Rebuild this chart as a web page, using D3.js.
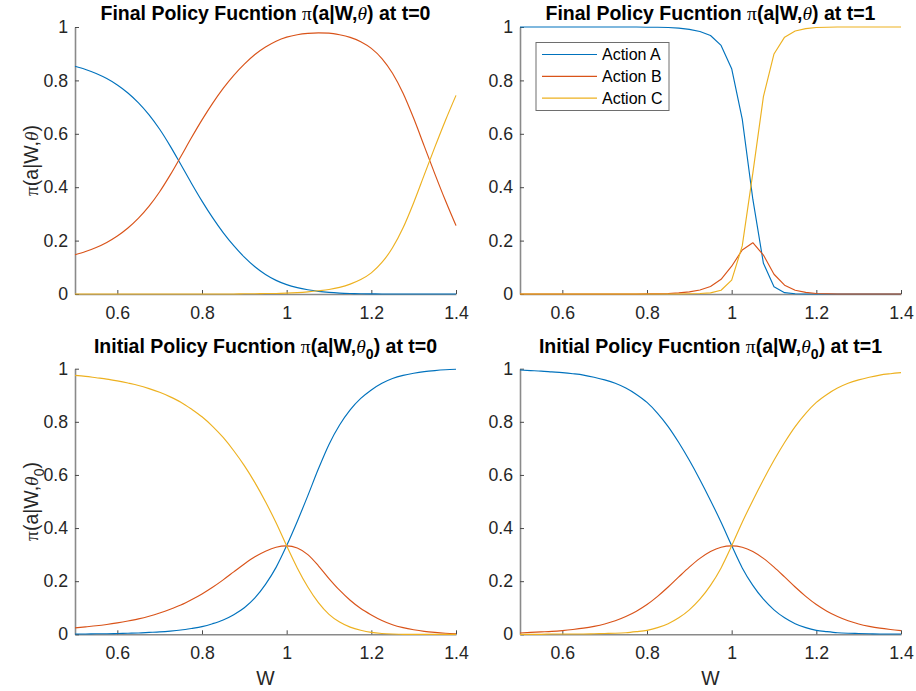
<!DOCTYPE html>
<html>
<head>
<meta charset="utf-8">
<script src="https://cdn.jsdelivr.net/npm/d3@7"></script>
<style>
  html, body { margin: 0; padding: 0; background: #ffffff; }
  svg { display: block; }
</style>
</head>
<body>
<svg id="fig" width="916" height="691"></svg>
<script>
// Wealth grid shared by all four panels
const W_VALUES = [0.5, 0.525, 0.55, 0.575, 0.6, 0.625, 0.65, 0.675, 0.7, 0.725,
  0.75, 0.775, 0.8, 0.825, 0.85, 0.875, 0.9, 0.925, 0.95, 0.975,
  1.0, 1.025, 1.05, 1.075, 1.1, 1.125, 1.15, 1.175, 1.2, 1.225,
  1.25, 1.275, 1.3, 1.325, 1.35, 1.375, 1.4];

const X_TICKS = [0.6, 0.8, 1, 1.2, 1.4];
const Y_TICKS = [0, 0.2, 0.4, 0.6, 0.8, 1];
const ACTIONS = ["Action A", "Action B", "Action C"];

// Final policy, t = 0
const finalT0_A = [0.853, 0.841, 0.826, 0.807, 0.783, 0.753, 0.716, 0.671, 0.617, 0.554,
  0.485, 0.415, 0.348, 0.286, 0.230, 0.181, 0.138, 0.102, 0.073, 0.051,
  0.035, 0.024, 0.016, 0.010, 0.006, 0.0035, 0.002, 0.001, 0.0006, 0,
  0, 0, 0, 0, 0, 0, 0];
const finalT0_B = [0.147, 0.159, 0.174, 0.193, 0.217, 0.247, 0.284, 0.329, 0.383, 0.446,
  0.515, 0.585, 0.652, 0.714, 0.770, 0.819, 0.861, 0.897, 0.925, 0.947,
  0.962, 0.971, 0.976, 0.978, 0.977, 0.971, 0.961, 0.945, 0.920, 0.882,
  0.827, 0.752, 0.658, 0.554, 0.450, 0.350, 0.256];
const finalT0_C = [0, 0, 0, 0, 0, 0, 0, 0, 0, 0,
  0, 0, 0, 0, 0, 0, 0.001, 0.001, 0.002, 0.002,
  0.003, 0.005, 0.008, 0.012, 0.017, 0.025, 0.037, 0.054, 0.079, 0.118,
  0.173, 0.248, 0.342, 0.446, 0.550, 0.650, 0.744];

// Final policy, t = 1
const finalT1_A = [1, 1, 1, 1, 1, 1, 1, 1, 1, 1,
  1, 1, 0.999, 0.999, 0.998, 0.996, 0.991, 0.983, 0.968, 0.931,
  0.844, 0.655, 0.355, 0.115, 0.027, 0.005, 0.001, 0, 0, 0,
  0, 0, 0, 0, 0, 0, 0];
const finalT1_B = [0, 0, 0, 0, 0, 0, 0, 0, 0, 0,
  0, 0, 0.001, 0.001, 0.002, 0.004, 0.008, 0.015, 0.028, 0.055,
  0.104, 0.165, 0.192, 0.146, 0.074, 0.033, 0.014, 0.006, 0.002, 0.001,
  0, 0, 0, 0, 0, 0, 0];
const finalT1_C = [0, 0, 0, 0, 0, 0, 0, 0, 0, 0,
  0, 0, 0, 0, 0, 0, 0.001, 0.002, 0.004, 0.014,
  0.052, 0.180, 0.453, 0.739, 0.899, 0.962, 0.985, 0.994, 0.998, 0.999,
  1, 1, 1, 1, 1, 1, 1];

// Initial policy, t = 0
const initT0_A = [0.001, 0.001, 0.002, 0.002, 0.003, 0.004, 0.005, 0.007, 0.009, 0.012,
  0.016, 0.022, 0.029, 0.040, 0.054, 0.074, 0.100, 0.137, 0.188, 0.252,
  0.334, 0.425, 0.522, 0.623, 0.715, 0.788, 0.845, 0.888, 0.920, 0.945,
  0.963, 0.975, 0.983, 0.989, 0.993, 0.996, 0.998];
const initT0_B = [0.024, 0.028, 0.032, 0.037, 0.043, 0.050, 0.058, 0.068, 0.080, 0.094,
  0.110, 0.130, 0.152, 0.177, 0.205, 0.235, 0.265, 0.292, 0.313, 0.328,
  0.333, 0.325, 0.300, 0.258, 0.210, 0.166, 0.128, 0.097, 0.073, 0.052,
  0.036, 0.025, 0.017, 0.011, 0.007, 0.004, 0.002];
const initT0_C = [0.975, 0.971, 0.966, 0.961, 0.954, 0.946, 0.937, 0.925, 0.911, 0.894,
  0.874, 0.848, 0.819, 0.783, 0.741, 0.691, 0.635, 0.571, 0.499, 0.420,
  0.333, 0.250, 0.178, 0.119, 0.075, 0.046, 0.027, 0.015, 0.007, 0.003,
  0.001, 0, 0, 0, 0, 0, 0];

// Initial policy, t = 1
const initT1_A = [0.995, 0.993, 0.991, 0.988, 0.985, 0.981, 0.976, 0.968, 0.958, 0.945,
  0.927, 0.903, 0.873, 0.832, 0.782, 0.722, 0.655, 0.582, 0.504, 0.422,
  0.334, 0.250, 0.184, 0.132, 0.092, 0.062, 0.040, 0.025, 0.015, 0.010,
  0.006, 0.004, 0.003, 0.002, 0.001, 0.001, 0.001];
const initT1_B = [0.005, 0.007, 0.009, 0.011, 0.014, 0.018, 0.023, 0.030, 0.039, 0.051,
  0.067, 0.087, 0.112, 0.143, 0.178, 0.216, 0.253, 0.286, 0.312, 0.328,
  0.333, 0.328, 0.312, 0.286, 0.253, 0.216, 0.178, 0.143, 0.112, 0.087,
  0.067, 0.051, 0.039, 0.030, 0.023, 0.018, 0.014];
const initT1_C = [0, 0, 0, 0.001, 0.001, 0.001, 0.001, 0.002, 0.003, 0.004,
  0.006, 0.010, 0.015, 0.025, 0.040, 0.062, 0.092, 0.132, 0.184, 0.250,
  0.333, 0.422, 0.504, 0.582, 0.655, 0.722, 0.782, 0.832, 0.873, 0.903,
  0.927, 0.945, 0.958, 0.968, 0.976, 0.981, 0.985];

// ---- drawing ----
const SANS = "'Liberation Sans', Arial, Helvetica, sans-serif";
const SERIF = "'Liberation Serif', 'Times New Roman', serif";
const LINE_COLORS = ["#0072BD", "#D95319", "#EDB120"];
const AXIS_FONT = 17.7;
const TITLE_FONT = 19.5;

function titleParts(kind, t, sub) {
  const parts = [
    { text: kind + " Policy Fucntion " },
    { text: "π", greek: true },
    { text: "(a|W," },
    { text: "θ", greek: true, italic: true }
  ];
  if (sub) parts.push({ text: "0", sub: true });
  parts.push({ text: ") at t=" + t });
  return parts;
}

function labelParts(sub) {
  const parts = [
    { text: "π", greek: true },
    { text: "(a|W," },
    { text: "θ", greek: true, italic: true }
  ];
  if (sub) parts.push({ text: "0", sub: true });
  parts.push({ text: ")" });
  return parts;
}

function writeRich(textSel, parts, size) {
  let shifted = 0;
  parts.forEach(p => {
    const ts = textSel.append("tspan").text(p.text);
    let dy = 0;
    if (p.greek) {
      ts.attr("font-family", SERIF)
        .attr("font-weight", "normal")
        .attr("font-style", p.italic ? "italic" : "normal");
    }
    if (p.sub) {
      ts.attr("font-size", size * 0.72);
      dy = size * 0.32 - shifted;
      shifted = size * 0.32;
    } else if (shifted) {
      dy = -shifted;
      shifted = 0;
    }
    if (dy) ts.attr("dy", dy);
  });
}

const panels = [
  { left: 75, right: 456, top: 27, bottom: 294,
    series: [finalT0_A, finalT0_B, finalT0_C], smooth: true,
    title: titleParts("Final", 0, false), titleY: 20,
    ylabel: labelParts(false), xlabel: false, legend: false },
  { left: 520, right: 901, top: 27, bottom: 294,
    series: [finalT1_A, finalT1_B, finalT1_C], smooth: false,
    title: titleParts("Final", 1, false), titleY: 20,
    ylabel: null, xlabel: false, legend: true },
  { left: 75, right: 456, top: 368.7, bottom: 634.3,
    series: [initT0_A, initT0_B, initT0_C], smooth: true,
    title: titleParts("Initial", 0, true), titleY: 353,
    ylabel: labelParts(true), xlabel: true, legend: false },
  { left: 520, right: 901, top: 368.7, bottom: 634.3,
    series: [initT1_A, initT1_B, initT1_C], smooth: true,
    title: titleParts("Initial", 1, true), titleY: 353,
    ylabel: null, xlabel: true, legend: false }
];

const svg = d3.select("#fig");
svg.append("rect").attr("width", 916).attr("height", 691).attr("fill", "#ffffff");

panels.forEach(p => {
  const x = d3.scaleLinear().domain([0.5, 1.4]).range([p.left, p.right]);
  const y = d3.scaleLinear().domain([0, 1]).range([p.bottom, p.top]);
  const g = svg.append("g");

  const styleAxis = sel => {
    sel.attr("font-family", SANS).attr("font-size", AXIS_FONT);
    sel.select(".domain").attr("stroke", "#8a8a8a").attr("stroke-width", 1.6);
    sel.selectAll(".tick line").attr("stroke", "#4a4a4a").attr("stroke-width", 1);
    sel.selectAll(".tick text").attr("fill", "#262626");
  };

  g.append("g")
    .attr("transform", `translate(0,${p.bottom})`)
    .call(d3.axisBottom(x).tickValues(X_TICKS).tickSizeInner(-4).tickSizeOuter(0)
      .tickPadding(12).tickFormat(d3.format("~g")))
    .call(styleAxis);

  g.append("g")
    .attr("transform", `translate(${p.left},0)`)
    .call(d3.axisLeft(y).tickValues(Y_TICKS).tickSizeInner(-4).tickSizeOuter(0)
      .tickPadding(7).tickFormat(d3.format("~g")))
    .call(styleAxis);

  const line = d3.line()
    .x((d, i) => x(W_VALUES[i]))
    .y(d => y(d))
    .curve(p.smooth ? d3.curveMonotoneX : d3.curveLinear);

  p.series.forEach((vals, k) => {
    g.append("path")
      .datum(vals)
      .attr("fill", "none")
      .attr("stroke", LINE_COLORS[k])
      .attr("stroke-width", 1.15)
      .attr("stroke-linejoin", "round")
      .attr("d", line);
  });

  // title
  const title = g.append("text")
    .attr("x", (p.left + p.right) / 2)
    .attr("y", p.titleY)
    .attr("text-anchor", "middle")
    .attr("font-family", SANS)
    .attr("font-size", TITLE_FONT)
    .attr("font-weight", "bold")
    .attr("fill", "#000000");
  writeRich(title, p.title, TITLE_FONT);

  if (p.ylabel) {
    const yl = g.append("text")
      .attr("transform", `translate(38,${(p.top + p.bottom) / 2}) rotate(-90)`)
      .attr("text-anchor", "middle")
      .attr("font-family", SANS)
      .attr("font-size", TITLE_FONT)
      .attr("fill", "#262626");
    writeRich(yl, p.ylabel, TITLE_FONT);
  }

  if (p.xlabel) {
    g.append("text")
      .attr("x", (p.left + p.right) / 2)
      .attr("y", 684.5)
      .attr("text-anchor", "middle")
      .attr("font-family", SANS)
      .attr("font-size", TITLE_FONT)
      .attr("fill", "#262626")
      .text("W");
  }

  if (p.legend) {
    const lg = g.append("g").attr("transform", `translate(${p.left + 16},${p.top + 15.5})`);
    lg.append("rect")
      .attr("width", 133).attr("height", 68)
      .attr("fill", "#ffffff")
      .attr("stroke", "#6e6e6e").attr("stroke-width", 1);
    ACTIONS.forEach((name, k) => {
      const cy = 12 + k * 21.8;
      lg.append("line")
        .attr("x1", 6).attr("x2", 61).attr("y1", cy).attr("y2", cy)
        .attr("stroke", LINE_COLORS[k]).attr("stroke-width", 1.2);
      lg.append("text")
        .attr("x", 66).attr("y", cy).attr("dy", "0.35em")
        .attr("font-family", SANS).attr("font-size", 16)
        .attr("fill", "#000000")
        .text(name);
    });
  }
});
</script>
</body>
</html>
